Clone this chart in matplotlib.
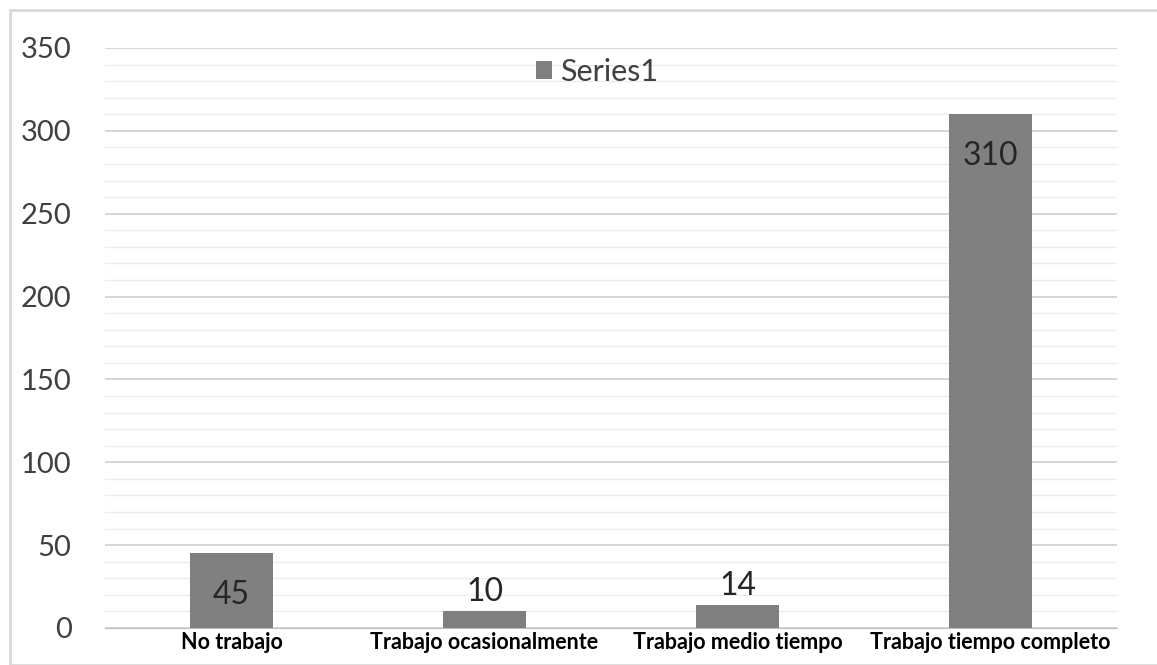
import numpy as np
import matplotlib.pyplot as plt
from matplotlib.patches import Rectangle

categories = ["No trabajo", "Trabajo ocasionalmente", "Trabajo medio tiempo", "Trabajo tiempo completo"]
values = [45, 10, 14, 310]
inside = [True, False, False, True]  # where Excel put the data label

plt.rcParams['font.family'] = ['Lato', 'DejaVu Sans']

fig = plt.figure(figsize=(11.57, 6.65), dpi=100)
ax = fig.add_axes([105/1157, 1-628/665, 1012/1157, 580/665])

x = np.arange(len(categories))
bars = ax.bar(x, values, width=0.33, color='#808080', zorder=3, label='Series1')

ax.set_xlim(-0.5, len(categories)-0.5)
ax.set_ylim(0, 350)
ax.set_yticks(np.arange(0, 351, 50))
ax.set_yticks(np.arange(0, 351, 10), minor=True)
ax.grid(axis='y', which='major', color='#cfcfcf', lw=1.2, zorder=0)
ax.grid(axis='y', which='minor', color='#ececec', lw=1.0, zorder=0)
for s in ['top', 'right', 'left']:
    ax.spines[s].set_visible(False)
ax.spines['bottom'].set_color('#bfbfbf')
ax.tick_params(axis='both', which='both', length=0)
ax.tick_params(axis='y', labelsize=21, labelcolor='#404040', pad=24)
ax.set_xticks(x)
ax.set_xticklabels(categories, fontsize=15.5, fontweight='bold', color='#000000')
ax.tick_params(axis='x', pad=3)

for b, v, ins in zip(bars, values, inside):
    cx = b.get_x() + b.get_width()/2
    if ins:
        ax.annotate(str(v), (cx, v), xytext=(0, -19), textcoords='offset points',
                    ha='center', va='top', fontsize=23, color='#262626', zorder=4)
    else:
        ax.annotate(str(v), (cx, v), xytext=(0, 3), textcoords='offset points',
                    ha='center', va='bottom', fontsize=23, color='#262626', zorder=4)

ax.legend(loc='upper center', bbox_to_anchor=(0.486, 1.03), frameon=False,
          fontsize=22, handlelength=0.55, handleheight=0.55, handletextpad=0.25,
          labelcolor='#404040')

fig.patches.append(Rectangle((10/1157, 0), 1, 1-10/665, transform=fig.transFigure,
                             fill=False, edgecolor='#d9d9d9', lw=2))

fig.savefig('out.png', dpi=100)
